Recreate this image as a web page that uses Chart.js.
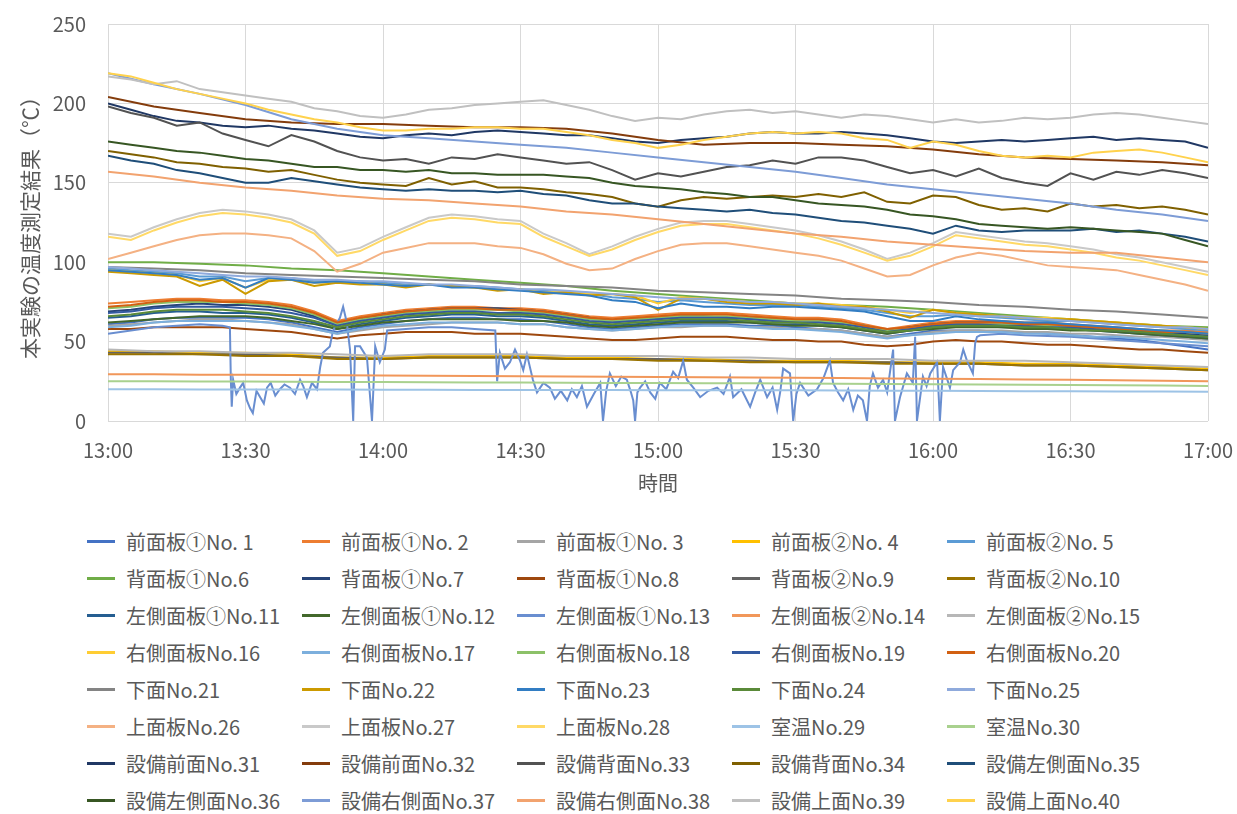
<!DOCTYPE html>
<html lang="ja">
<head>
<meta charset="utf-8">
<title>本実験の温度測定結果</title>
<script src="https://cdn.jsdelivr.net/npm/chart.js@4.4.1/dist/chart.umd.min.js"></script>
<style>
  html, body { margin: 0; padding: 0; background: #fff; }
  #wrap { position: relative; width: 1237px; height: 814px; }
  #tempchart { position: absolute; left: 0; top: 0; }
  #legend {
    position: absolute; left: 87px; top: 523px;
    display: grid; grid-template-columns: repeat(5, 215px); grid-auto-rows: 37px;
    font-family: "Noto Sans CJK JP", "Noto Sans", sans-serif; font-size: 20px; color: #595959;
  }
  .item { display: flex; align-items: center; white-space: nowrap; }
  .swatch { width: 28px; height: 3px; margin-right: 11px; flex: none; }
</style>
</head>
<body>
<div id="wrap">
  <canvas id="tempchart" width="1237" height="511"></canvas>
  <div id="legend"></div>
</div>
<script>
// sample times, minutes after 13:00
var T5 = [0,5,10,15,20,25,30,35,40,45,50,55,60,65,70,75,80,85,90,95,100,105,110,115,120,125,130,135,140,145,150,155,160,165,170,175,180,185,190,195,200,205,210,215,220,225,230,235,240];
var T10 = [0,10,20,30,40,50,60,70,80,90,100,110,120,130,140,150,160,170,180,190,200,210,220,230,240];
var timeTicks = ['13:00','13:30','14:00','14:30','15:00','15:30','16:00','16:30','17:00'];

var names = [
  '前面板①No. 1','前面板①No. 2','前面板①No. 3','前面板②No. 4','前面板②No. 5',
  '背面板①No.6','背面板①No.7','背面板①No.8','背面板②No.9','背面板②No.10',
  '左側面板①No.11','左側面板①No.12','左側面板①No.13','左側面板②No.14','左側面板②No.15',
  '右側面板No.16','右側面板No.17','右側面板No.18','右側面板No.19','右側面板No.20',
  '下面No.21','下面No.22','下面No.23','下面No.24','下面No.25',
  '上面板No.26','上面板No.27','上面板No.28','室温No.29','室温No.30',
  '設備前面No.31','設備前面No.32','設備背面No.33','設備背面No.34','設備左側面No.35',
  '設備左側面No.36','設備右側面No.37','設備右側面No.38','設備上面No.39','設備上面No.40'
];
var colors = [
  '#4472C4','#ED7D31','#A5A5A5','#FFC000','#5B9BD5',
  '#70AD47','#264478','#9E480E','#636363','#997300',
  '#255E91','#43682B','#698ED0','#F1975A','#B7B7B7',
  '#FFCD33','#7CAFDD','#8CC168','#335AA1','#D26012',
  '#848484','#CC9A00','#327DC3','#5A8A39','#8FAADC',
  '#F4B183','#C9C9C9','#FFD966','#9DC3E6','#A9D18E',
  '#203864','#843C0C','#525252','#7F6000','#1F4E79',
  '#375623','#7D9CD6','#F2A36F','#C0C0C0','#FFD24D'
];

// 5-minute readings
var s1 = [61,62,64,65,65,65,65,64,62,59,56,59,61,63,64,65,65,64,64,63,61,59,58,59,60,61,61,61,60,60,59,58,57,55,53,55,57,57,57,56,56,55,54,53,52,51,49,47,45];
var s2 = [74,75,76,77,77,76,76,75,73,69,63,66,68,70,71,72,72,71,71,70,68,66,65,66,67,68,68,68,67,66,65,65,64,61,58,60,62,63,63,63,62,62,61,60,59,58,57,57,56];
var s3 = [60,61,62,63,64,64,63,62,61,58,55,57,59,60,61,62,62,62,61,61,59,58,57,58,59,59,60,60,59,59,58,58,57,55,53,54,56,57,57,57,56,56,55,55,54,53,53,52,51];
var s5 = [96,95,94,93,91,91,88,90,90,88,88,88,87,86,86,85,85,84,83,82,81,80,78,77,75,76,75,74,73,73,73,72,71,70,68,66,66,67,66,65,64,63,63,62,61,60,59,58,57];
var s7 = [69,70,72,73,74,73,73,72,70,66,61,64,67,69,70,71,71,71,70,69,67,65,63,64,65,66,66,65,65,64,63,63,62,60,57,59,61,62,62,62,61,61,60,59,58,57,56,55,54];
var s8 = [58,58,59,59,59,59,58,57,56,54,52,54,55,56,56,56,55,55,55,54,53,52,51,51,52,53,53,53,52,51,51,50,50,48,47,48,50,51,50,50,49,48,48,47,46,45,45,44,43];
var s11 = [65,66,68,69,69,68,68,67,65,62,58,61,63,65,66,67,67,66,66,65,63,61,60,61,62,63,63,63,62,61,61,60,59,57,55,57,59,60,60,59,59,58,58,57,56,55,54,53,52];
var s12 = [62,63,64,65,66,66,66,65,63,61,58,60,62,63,64,64,64,64,63,63,62,60,59,60,61,62,62,62,62,61,60,60,59,57,55,57,58,59,59,59,58,58,57,57,56,55,54,53,52];
var s16 = [95,94,93,92,88,90,84,89,89,87,87,87,86,85,86,85,84,83,83,81,81,80,80,79,74,78,77,76,75,75,74,74,73,72,70,68,70,68,67,66,65,65,64,63,62,61,60,59,58];
var s17 = [59,60,62,63,63,63,63,62,60,58,55,58,60,61,62,62,62,62,61,61,59,58,57,58,59,60,60,60,59,58,58,57,56,54,52,54,55,56,56,56,55,55,54,53,53,52,51,50,49];
var s18 = [71,72,74,75,75,75,74,73,71,67,61,64,66,68,69,70,70,70,69,68,66,64,63,64,65,66,66,66,65,64,63,63,62,60,57,58,60,61,61,61,61,60,60,59,58,57,57,56,55];
var s19 = [68,69,71,72,72,72,71,70,68,65,60,63,65,67,68,69,69,68,68,67,65,63,62,63,64,65,65,65,64,63,62,62,61,59,56,58,60,61,61,60,60,59,59,58,57,56,55,54,53];
var s20 = [72,73,75,76,76,75,75,74,72,68,62,65,67,69,70,71,71,70,70,69,67,65,64,65,66,67,67,67,66,65,64,64,63,60,58,59,61,62,62,62,61,61,60,59,58,57,56,56,55];
var s22 = [94,93,92,91,85,89,80,88,89,85,87,86,86,84,86,85,84,82,83,80,81,79,80,78,70,77,77,75,74,74,73,74,72,72,69,65,70,68,67,66,65,64,64,63,62,61,60,59,58];
var s23 = [95,94,93,92,89,90,84,90,89,87,88,87,86,85,86,84,84,83,82,81,80,79,76,75,71,74,72,72,71,72,72,71,70,69,66,63,63,66,64,63,62,62,61,60,59,58,57,56,55];
var s24 = [66,67,69,70,70,70,69,68,66,63,59,62,64,66,67,68,68,67,67,66,64,62,61,62,63,64,64,64,63,62,62,61,60,58,56,57,59,60,60,60,59,59,58,57,57,56,55,54,53];
var s25 = [97,96,95,94,93,92,91,91,90,89,89,88,88,87,86,86,85,84,83,83,82,81,80,79,78,77,77,76,75,75,74,73,72,71,70,69,68,67,66,66,65,64,63,62,61,60,59,59,58];
var s26 = [102,106,110,114,117,118,118,117,115,107,94,99,106,109,112,112,112,110,109,105,99,95,96,102,107,111,112,112,110,108,106,104,101,96,91,92,98,103,106,104,101,98,97,96,95,92,89,86,82];
var s27 = [118,116,122,127,131,133,132,130,127,120,106,109,116,122,128,130,129,127,126,118,112,105,110,116,121,125,126,126,124,122,120,117,113,108,102,106,112,119,117,115,113,112,110,108,105,103,100,97,94];
var s28 = [116,114,120,125,129,131,130,128,125,118,104,107,114,120,126,128,127,125,124,116,110,104,108,114,119,123,124,124,122,120,118,115,111,106,101,104,110,117,115,113,111,110,108,106,103,101,98,95,92];
var s31 = [200,196,192,189,188,186,185,186,184,183,181,179,178,180,181,180,182,183,182,181,180,180,178,176,175,177,178,179,181,182,181,181,182,181,180,178,176,175,176,177,176,177,178,179,177,178,177,176,172];
var s33 = [198,194,191,186,188,181,177,173,180,176,170,166,164,165,162,166,165,168,166,164,162,163,158,152,156,154,157,160,161,164,162,166,166,164,160,156,158,154,159,153,150,148,156,152,157,155,158,156,153];
var s34 = [170,168,166,163,162,160,159,157,158,155,152,150,149,148,153,149,151,147,147,146,144,143,141,137,135,139,141,140,141,142,141,143,141,144,138,137,142,141,136,133,134,132,137,135,136,134,135,133,130];
var s35 = [167,164,162,158,156,153,150,150,153,151,149,147,146,145,146,145,145,144,145,143,142,139,137,137,135,134,133,132,133,131,130,128,126,125,123,121,118,123,120,119,120,120,120,121,119,120,118,116,113];
var s36 = [176,174,172,170,169,167,165,164,162,160,160,158,158,157,158,156,156,155,155,155,154,153,150,148,147,146,144,143,141,141,139,137,136,135,133,130,129,127,124,123,122,121,122,121,120,119,118,114,110];
var s39 = [217,215,212,214,209,207,205,203,201,197,195,192,191,193,196,197,199,200,201,202,199,196,192,189,191,190,193,195,196,194,195,193,191,193,192,190,188,190,188,189,191,190,191,193,194,193,191,189,187];
var s40 = [219,217,213,209,206,203,200,196,193,190,188,185,183,183,184,184,185,185,184,184,182,180,177,175,172,174,177,179,181,182,181,182,181,178,177,172,176,174,170,167,166,167,166,169,170,171,169,166,163];

// 10-minute readings
var s4 = [44,44,43,43,42,40,40,41,41,41,40,40,39,39,38,38,38,37,37,37,36,36,35,34,33];
var s6 = [100,100,99,98,96,95,93,91,89,87,85,82,80,78,76,74,73,72,70,68,66,64,62,60,59];
var s9 = [43,43,42,42,41,40,39,40,40,40,39,39,39,38,38,37,37,37,36,36,35,35,34,33,32];
var s10 = [42,42,42,41,41,39,39,40,40,40,39,39,38,38,37,37,37,36,36,36,35,35,34,33,32];
var s14 = [29.5,29.4,29.2,29.1,29,28.8,28.7,28.5,28.4,28.2,28,27.9,27.7,27.5,27.4,27.2,27,26.8,26.6,26.4,26.2,26,25.7,25.4,25.1];
var s15 = [45,44,44,43,43,42,41,42,42,42,41,41,41,40,40,39,39,39,38,38,38,37,36,35,34];
var s21 = [97,96,95,93,92,91,90,89,88,86,85,84,82,81,80,79,77,76,75,73,72,70,69,67,65];
var s29 = [20,20,19.9,19.9,19.8,19.8,19.7,19.7,19.6,19.6,19.5,19.5,19.4,19.4,19.3,19.3,19.2,19.1,19,18.9,18.8,18.7,18.6,18.5,18.4];
var s30 = [25,25,24.9,24.8,24.7,24.6,24.5,24.4,24.3,24.2,24.1,24,23.9,23.8,23.7,23.6,23.5,23.3,23.2,23,22.9,22.7,22.5,22.3,22.1];
var s32 = [204,198,194,190,188,187,187,186,185,185,184,181,177,174,175,175,174,173,171,168,166,165,164,163,161];
var s37 = [219,212,206,199,190,184,180,178,176,174,172,169,166,163,160,157,153,149,146,143,140,137,133,130,126];
var s38 = [157,154,150,147,145,142,140,139,137,135,132,130,127,124,121,118,116,113,111,109,107,106,106,103,100];

// No.13 logged irregularly (sensor dropouts)
var T13 = [0,5,10,15,20,25,26.6,26.8,27,27.3,
  28,28.8,29.5,30.3,31,31.6,32.4,33.2,34,34.7,
  35.5,36.5,37.5,38.5,39.7,40.8,41.9,42.6,43.4,44.5,
  45.6,46.3,46.9,48.4,49.1,50.6,51.3,52.1,52.8,53.5,
  53.9,55,56.5,57.6,58.3,59.3,60.4,60.9,65,70,
  75,80,84.5,84.9,85.5,86.6,87.7,88.8,89.9,90.6,
  91.4,92.7,93.6,95,96.4,97.5,98.8,100.2,101.2,102.3,
  103.4,104.5,106,107.4,108,108.7,109.5,110.8,112,113.2,
  114,114.6,115,115.5,116.1,117.2,118.3,119.4,120.4,121.8,
  123.3,124.4,125.5,126.3,127.7,129.2,131,132.9,134.3,135.7,
  136.4,138.2,140.1,141.2,142.3,143.8,145,146,146.7,147.3,
  148.8,149.5,150.2,151,152.8,154.7,156.1,157.5,158.2,159.3,
  160.4,161.5,162.6,163.6,164.7,165.6,166.2,166.9,168,169.1,
  170,171.3,171.7,172.8,173.5,174.3,175.6,176.1,176.5,177.8,
  178.6,179.4,180.9,181.5,182.2,183.7,184.4,185.9,186.6,187.4,
  188.7,189.2,189.6,190.3,195,200,210,220,230,240];
var s13 = [55,57,59,60,61,60,59,26,9,26,
  17,21,24,13,8,5,19,15,11,21,
  24,16,20,23,21,17,26,22,15,24,
  20,34,43,47,57,65,72,62,45,0,
  47,47,40,0,47,37,45,57,58,59,
  59,58,57,25,43,33,37,45,38,32,
  42,26,18,24,21,14,19,13,20,15,
  22,9,17,24,0,19,30,22,28,26,
  19,13,0,18,21,25,18,14,24,20,
  31,27,38,26,21,15,19,21,17,28,
  15,20,9,18,26,15,21,7,19,33,
  30,0,17,24,16,20,27,38,24,18,
  13,20,7,16,13,0,22,30,21,26,
  18,45,0,15,22,30,24,53,0,28,
  22,30,37,0,34,21,32,37,45,38,
  30,49,53,54,55,54,53,51,49,47];

var series = [
  [T5, s1], [T5, s2], [T5, s3], [T10, s4], [T5, s5],
  [T10, s6], [T5, s7], [T5, s8], [T10, s9], [T10, s10],
  [T5, s11], [T5, s12], [T13, s13], [T10, s14], [T10, s15],
  [T5, s16], [T5, s17], [T5, s18], [T5, s19], [T5, s20],
  [T10, s21], [T5, s22], [T5, s23], [T5, s24], [T5, s25],
  [T5, s26], [T5, s27], [T5, s28], [T10, s29], [T10, s30],
  [T5, s31], [T10, s32], [T5, s33], [T5, s34], [T5, s35],
  [T5, s36], [T10, s37], [T10, s38], [T5, s39], [T5, s40]
];

function xy(times, vals) {
  return times.map(function (t, i) { return { x: t, y: vals[i] }; });
}

var datasets = series.map(function (s, i) {
  return {
    label: names[i],
    data: xy(s[0], s[1]),
    borderColor: colors[i],
    backgroundColor: colors[i],
    borderWidth: 2,
    pointRadius: 0,
    fill: false,
    order: 40 - i
  };
});

Chart.defaults.font.family = '"Noto Sans CJK JP", "Noto Sans", sans-serif';
Chart.defaults.color = '#595959';

var ctx = document.getElementById('tempchart');
var tempChart = new Chart(ctx, {
  type: 'line',
  data: { datasets: datasets },
  options: {
    responsive: false,
    animation: false,
    layout: { padding: { top: 24, right: 29, bottom: 0, left: 0 } },
    plugins: {
      legend: { display: false },
      tooltip: { enabled: false }
    },
    scales: {
      x: {
        type: 'linear',
        min: 0,
        max: 240,
        ticks: {
          stepSize: 30,
          padding: 17,
          maxRotation: 0,
          font: { size: 20 },
          callback: function (v) { return timeTicks[Math.round(v / 30)]; }
        },
        grid: { color: '#D9D9D9', drawTicks: false },
        border: { display: false },
        title: { display: true, text: '時間', font: { size: 20 }, padding: { top: 0, bottom: 16 } },
        afterFit: function (s) { s.height = 90; s.paddingLeft = 0; s.paddingRight = 0; }
      },
      y: {
        min: 0,
        max: 250,
        ticks: { stepSize: 50, padding: 22, font: { size: 20 } },
        grid: { color: '#D9D9D9', drawTicks: false },
        border: { display: false },
        title: { display: true, text: '本実験の温度測定結果（℃）', font: { size: 21 }, padding: { top: 17, bottom: 0 } },
        afterFit: function (s) { s.width = 108; s.paddingTop = 0; s.paddingBottom = 0; }
      }
    }
  }
});

// legend laid out in five fixed columns, like the original
var legendBox = document.getElementById('legend');
tempChart.data.datasets.forEach(function (ds) {
  var item = document.createElement('div');
  item.className = 'item';
  var sw = document.createElement('span');
  sw.className = 'swatch';
  sw.style.background = ds.borderColor;
  var txt = document.createElement('span');
  txt.textContent = ds.label;
  item.appendChild(sw);
  item.appendChild(txt);
  legendBox.appendChild(item);
});
</script>
</body>
</html>
